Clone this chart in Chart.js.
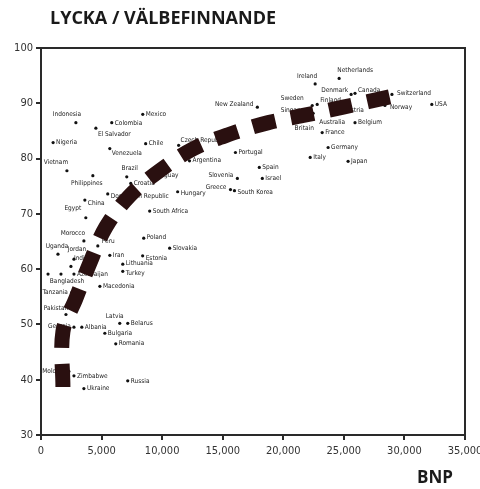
<!DOCTYPE html>
<html lang="sv">
<head>
  <meta charset="UTF-8">
  <title>Lycka / välbefinnande och BNP</title>
  <script src="https://cdn.jsdelivr.net/npm/chart.js"></script>
  <style>
    html, body { margin: 0; padding: 0; background: #fff; }
    #wrap { width: 480px; height: 489px; }
  </style>
</head>
<body>
  <div id="wrap"><canvas id="happyChart" width="480" height="489"></canvas></div>

  <script>
    // data
    const countries = [
      'Indonesia', 'Colombia', 'Mexico', 'El Salvador', 'Nigeria', 'Chile', 'Venezuela', 'Vietnam',
      'Brazil', 'Philippines', 'Uruguay', 'Croatia', 'Dominican Republic', 'China', 'Egypt',
      'South Africa', 'Hungary', 'Greece', 'South Korea', 'Slovenia', 'Israel', 'Spain', 'Portugal',
      'Argentina', 'Czech Republic', 'New Zealand', 'Poland', 'Slovakia', 'Estonia', 'Iran',
      'Lithuania', 'Turkey', 'Peru', 'Morocco', 'Uganda', 'Jordan', 'India', '', 'Bangladesh',
      'Azerbaijan', 'Tanzania', 'Macedonia', 'Pakistan', 'Latvia', 'Belarus', 'Albania', 'Georgia',
      'Bulgaria', 'Romania', 'Moldova', 'Zimbabwe', 'Ukraine', 'Russia', 'Ireland', 'Netherlands',
      'Denmark', 'Canada', 'Sweden', 'Finland', 'Singapore', 'Britain', 'Australia', 'Austria',
      'Belgium', 'France', 'Germany', 'Italy', 'Japan', 'Switzerland', 'Norway', 'USA'
    ];
    const gdp = [
      2880, 5840, 8400, 4530, 1000, 8640, 5680, 2140,
      7080, 4280, 9050, 7410, 5510, 3620, 3700,
      8970, 11280, 15640, 15970, 16210, 18270, 18020, 16050,
      12260, 11360, 17860, 8480, 10620, 8390, 5680,
      6750, 6750, 4690, 3540, 1400, 2720, 2470, 580, 1650,
      2720, 2550, 4860, 2060, 6500, 7160, 3370, 2720,
      5270, 6170, 2300, 2720, 3540, 7160, 22630, 24610,
      25600, 25920, 22390, 22800, 22470, 21810, 24440, 24690,
      25920, 23210, 23700, 22220, 25350, 28970, 28390, 32260
    ];
    const happiness = [
      86.5, 86.5, 88.0, 85.5, 82.9, 82.7, 81.8, 77.8,
      76.7, 76.9, 76.9, 75.5, 73.6, 72.5, 69.3,
      70.5, 74.0, 74.4, 74.2, 76.4, 76.4, 78.4, 81.1,
      79.6, 82.4, 89.3, 65.6, 63.8, 62.4, 62.5,
      60.9, 59.6, 64.2, 65.1, 62.7, 61.8, 60.5, 59.1, 59.1,
      59.1, 55.8, 56.9, 51.8, 50.2, 50.2, 49.5, 49.5,
      48.4, 46.5, 41.5, 40.7, 38.4, 39.8, 93.5, 94.5,
      91.6, 91.8, 89.6, 89.8, 88.2, 87.3, 88.2, 88.7,
      86.5, 84.7, 82.0, 80.2, 79.5, 91.6, 89.6, 89.8
    ];

    // the thick dashed trend curve
    const trendGdp = [1810, 1810, 2880, 4030, 5350, 7330, 9790, 12590, 15560, 18770, 21650, 24940, 29050];
    const trendHappy = [38.7, 48.7, 54.7, 61.1, 67.6, 73.3, 77.8, 81.8, 84.4, 86.5, 87.8, 89.3, 91.3];

    const xTicks = [0, 5000, 10000, 15000, 20000, 25000, 30000, 35000];
    const yTicks = [30, 40, 50, 60, 70, 80, 90, 100];

    // where each name sits relative to its dot: [align, dx, dy]
    const labelOffsets = {
      'Indonesia': ['center', -9, -8], 'Colombia': ['left', 3, 1], 'El Salvador': ['left', 2, 6],
      'Venezuela': ['left', 2, 5], 'Vietnam': ['center', -11, -8], 'Brazil': ['center', 3, -9],
      'Philippines': ['center', -6, 8], 'Dominican Republic': ['left', 3, 2], 'China': ['left', 3, 3],
      'Egypt': ['center', -13, -9], 'Hungary': ['left', 3, 2], 'Greece': ['right', -4, -2],
      'South Korea': ['left', 3, 2], 'Slovenia': ['right', -4, -3], 'Czech Republic': ['left', 2, -5],
      'New Zealand': ['right', -4, -3], 'Poland': ['left', 3, -1], 'Estonia': ['left', 3, 2],
      'Lithuania': ['left', 3, -1], 'Turkey': ['left', 3, 2], 'Peru': ['left', 4, -5],
      'Morocco': ['center', -11, -8], 'Uganda': ['center', -1, -8], 'Jordan': ['center', 3, -10],
      'India': ['left', 3, -8], 'Bangladesh': ['center', 6, 7], 'Tanzania': ['right', -4, 0],
      'Pakistan': ['center', -10, -6], 'Latvia': ['center', -5, -7], 'Georgia': ['right', -3, -1],
      'Moldova': ['right', -2, 0], 'Ireland': ['center', -8, -8], 'Netherlands': ['center', 16, -8],
      'Denmark': ['right', -3, -4], 'Canada': ['left', 3, -3], 'Sweden': ['center', -20, -7],
      'Finland': ['left', 3, -4], 'Singapore': ['right', -3, -3], 'Britain': ['center', -1, 10],
      'Australia': ['center', -5, 9], 'Switzerland': ['left', 5, -1], 'Norway': ['left', 5, 2]
    };

    const points = gdp.map((v, i) => ({ x: v, y: happiness[i] }));
    const trend = trendGdp.map((v, i) => ({ x: v, y: trendHappy[i] }));

    const countryLabels = {
      id: 'countryLabels',
      beforeDatasetsDraw(chart) {
        const { ctx, scales: { x, y } } = chart;
        ctx.save();
        ctx.font = "6.5px 'DejaVu Sans Condensed', 'DejaVu Sans', sans-serif";
        ctx.fillStyle = '#222';
        ctx.textBaseline = 'middle';
        countries.forEach((name, i) => {
          if (!name) return;
          const [align, dx, dy] = labelOffsets[name] || ['left', 3, 0];
          ctx.textAlign = align;
          ctx.fillText(name, x.getPixelForValue(gdp[i]) + dx, y.getPixelForValue(happiness[i]) + dy);
        });
        ctx.restore();
      }
    };

    const frameAndTitles = {
      id: 'frameAndTitles',
      beforeDatasetsDraw(chart) {
        const { ctx, chartArea: a } = chart;
        ctx.save();
        ctx.strokeStyle = '#2a2a2a';
        ctx.lineWidth = 2;
        ctx.strokeRect(a.left, a.top, a.right - a.left, a.bottom - a.top);
        ctx.restore();
      },
      afterDraw(chart) {
        const { ctx } = chart;
        ctx.save();
        ctx.fillStyle = '#1a1a1a';
        ctx.textBaseline = 'middle';
        ctx.textAlign = 'left';
        ctx.font = "bold 18px 'Open Sans'";
        ctx.fillText('LYCKA / VÄLBEFINNANDE', 50, 19);
        ctx.font = "bold 17px 'Open Sans'";
        ctx.fillText('BNP', 417, 478);
        ctx.restore();
      }
    };

    const tickFont = { family: "'DejaVu Sans Condensed'", size: 11 };

    new Chart(document.getElementById('happyChart'), {
      type: 'scatter',
      data: {
        datasets: [
          {
            type: 'line',
            data: trend,
            borderColor: '#2a1010',
            borderWidth: 15,
            borderDash: [23, 16],
            borderCapStyle: 'butt',
            pointRadius: 0,
            tension: 0.35,
            fill: false,
            order: 0
          },
          {
            data: points,
            pointRadius: 1.6,
            pointBackgroundColor: '#111',
            pointBorderWidth: 0,
            order: 1
          }
        ]
      },
      options: {
        responsive: false,
        animation: false,
        layout: { padding: { top: 48, right: 15, bottom: 0, left: 0 } },
        plugins: {
          legend: { display: false },
          tooltip: { enabled: false }
        },
        scales: {
          x: {
            type: 'linear',
            min: 0,
            max: 35000,
            afterBuildTicks: (s) => { s.ticks = xTicks.map(v => ({ value: v })); },
            afterFit: (s) => { s.height = 54; s.paddingLeft = 0; s.paddingRight = 0; },
            ticks: {
              color: '#333',
              font: tickFont,
              padding: 5,
              maxRotation: 0,
              callback: (v) => v.toLocaleString('en-US')
            },
            grid: { drawOnChartArea: false, tickLength: 5, color: '#2a2a2a', lineWidth: 2 },
            border: { color: '#2a2a2a', width: 2 }
          },
          y: {
            min: 30,
            max: 100,
            afterBuildTicks: (s) => { s.ticks = yTicks.map(v => ({ value: v })); },
            afterFit: (s) => { s.width = 41; },
            ticks: { color: '#333', font: tickFont, padding: 3 },
            grid: { drawOnChartArea: false, tickLength: 5, color: '#2a2a2a', lineWidth: 2 },
            border: { color: '#2a2a2a', width: 2 }
          }
        }
      },
      plugins: [countryLabels, frameAndTitles]
    });
  </script>
</body>
</html>
